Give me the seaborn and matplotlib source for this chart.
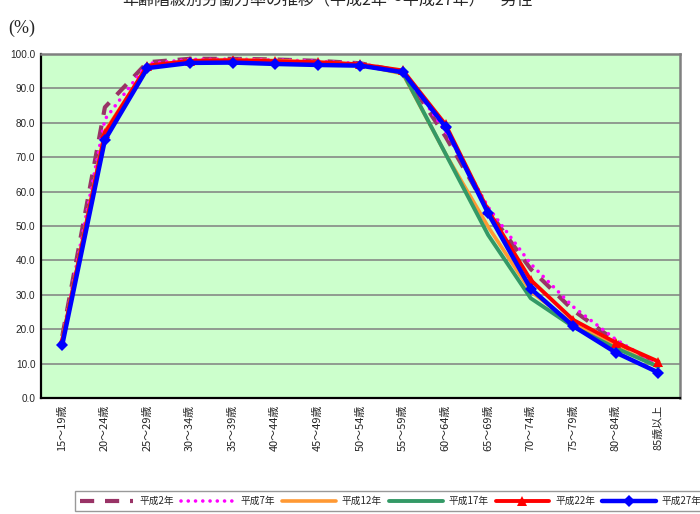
import matplotlib
matplotlib.use("Agg")
import matplotlib.pyplot as plt
import seaborn as sns
import numpy as np

# Age groups (x axis)
ages = ["15～19歳", "20～24歳", "25～29歳", "30～34歳", "35～39歳",
        "40～44歳", "45～49歳", "50～54歳", "55～59歳", "60～64歳",
        "65～69歳", "70～74歳", "75～79歳", "80～84歳", "85歳以上"]

# Labour force participation rate of men (%), by census year
h2 = [18.0, 84.5, 97.6, 98.6, 98.6, 98.4, 98.0, 97.3, 94.8, 76.0, 54.5, 37.5, 25.5, 16.5, 9.0]
h7 = [17.5, 81.0, 97.2, 98.4, 98.5, 98.3, 97.9, 97.2, 95.0, 77.5, 55.5, 39.0, 26.5, 17.0, 9.5]
h12 = [17.0, 77.5, 96.5, 98.0, 98.2, 98.1, 97.6, 96.9, 94.2, 71.0, 49.8, 31.0, 21.5, 15.0, 9.0]
h17 = [16.5, 76.5, 96.0, 97.8, 98.0, 97.8, 97.4, 96.8, 94.5, 71.0, 47.4, 29.0, 20.7, 14.5, 9.1]
h22 = [16.5, 77.0, 96.6, 98.0, 98.2, 97.9, 97.6, 97.0, 95.2, 79.5, 54.5, 34.3, 22.7, 16.1, 10.6]
h27 = [15.5, 75.0, 95.9, 97.4, 97.5, 97.1, 96.8, 96.6, 94.7, 78.8, 53.7, 31.8, 20.9, 13.2, 7.4]

years = ["平成2年", "平成7年", "平成12年", "平成17年", "平成22年", "平成27年"]
series = [h2, h7, h12, h17, h22, h27]

sns.set_theme(style="white")
plt.rcParams["font.family"] = ["Noto Sans CJK JP", "DejaVu Sans"]

fig = plt.figure(figsize=(7.0, 5.14), dpi=100)
ax = fig.add_axes([0.0586, 0.2257, 0.9124, 0.6693])
ax.set_facecolor("#CCFFCC")

styles = [
    dict(color="#993366", lw=3.0, linestyle=(0, (3.4, 2.6)), dash_capstyle="butt"),
    dict(color="#FF00FF", lw=2.6, linestyle=(0, (0.01, 2.0)), dash_capstyle="round"),
    dict(color="#FF9933", lw=2.6, linestyle="-"),
    dict(color="#339966", lw=2.8, linestyle="-"),
    dict(color="#FF0000", lw=2.8, linestyle="-", marker="^", markersize=7,
         markeredgewidth=0),
    dict(color="#0000FF", lw=3.2, linestyle="-", marker="D", markersize=6,
         markeredgewidth=0),
]

for name, vals, st in zip(years, series, styles):
    sns.lineplot(x=ages, y=vals, ax=ax, sort=False, label=name, **st)

ax.set_xlim(-0.5, len(ages) - 0.5)
ax.set_ylim(0, 100)
ax.set_yticks(np.arange(0, 101, 10))
ax.set_yticklabels([f"{v:.1f}" for v in np.arange(0, 101, 10)], fontsize=7.2,
                   family=["Liberation Sans", "DejaVu Sans"])
ax.set_xticks(range(len(ages)))
ax.set_xticklabels(ages, rotation=90, fontsize=7.9)
ax.set_xticks(np.arange(0.5, len(ages) - 0.5, 1.0), minor=True)
ax.tick_params(axis="x", which="major", length=0, pad=5)
ax.tick_params(axis="x", which="minor", direction="in", length=4, color="#808080", width=1)
ax.tick_params(axis="y", length=0, pad=4)
ax.set_xlabel("")
ax.set_ylabel("")

ax.yaxis.grid(True, color="#808080", lw=1.1)
ax.set_axisbelow(True)
for side in ["left", "bottom"]:
    ax.spines[side].set_color("black")
    ax.spines[side].set_linewidth(1.6)
for side in ["top", "right"]:
    ax.spines[side].set_color("#808080")
    ax.spines[side].set_linewidth(1.8)

ax.legend_.remove()
handles, labels = ax.get_legend_handles_labels()
leg = fig.legend(handles, labels, ncol=6, loc="lower left",
                 bbox_to_anchor=(75 / 700, 3 / 514), fontsize=7,
                 handlelength=5.5, handletextpad=0.6, columnspacing=0.75,
                 frameon=True, fancybox=False, borderpad=0.5, borderaxespad=0)
leg.get_frame().set_edgecolor("#808080")
leg.get_frame().set_linewidth(1.0)

fig.text(0.48, 1.0, "年齢階級別労働力率の推移（平成2年～平成27年）－男性－",
         ha="center", va="center", fontsize=11.5)
fig.text(22 / 700, 1 - 28 / 514, "(%)", ha="center", va="center", fontsize=13,
         family=["Liberation Serif", "DejaVu Serif"])

fig.savefig("out.png", dpi=100)
